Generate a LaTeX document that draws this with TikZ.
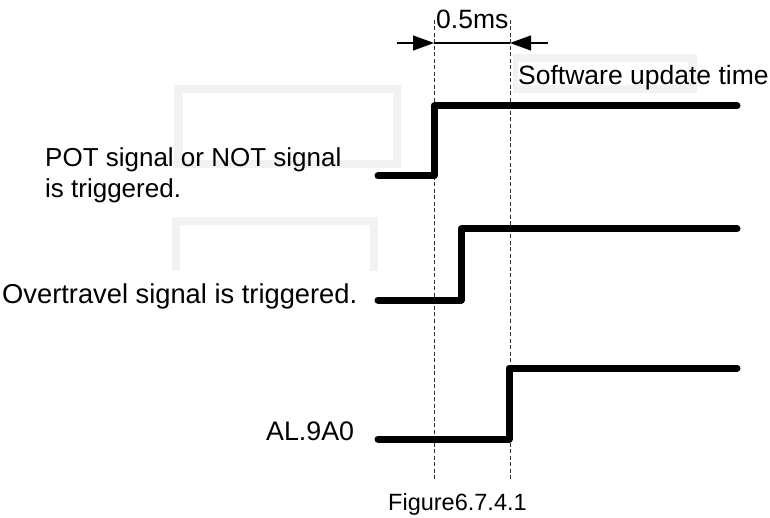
\documentclass[tikz,border=0pt]{standalone}
\usepackage{fontspec}
\setmainfont{Liberation Sans}
\usetikzlibrary{arrows.meta}
\definecolor{framegray}{RGB}{242,242,242}
\begin{document}
\begin{tikzpicture}[x=1pt,y=-1pt,
  signal/.style={line width=7pt,line cap=round,line join=round,black},
  guide/.style={line width=0.9pt,black!80,dash pattern=on 4pt off 2.5pt},
  dim/.style={line width=1.1pt,black},
  dimtip/.style={dim,-{Triangle[length=21pt,width=15pt]}},
  lbl/.style={inner sep=0pt,anchor=base west,font=\fontsize{26.5}{31}\selectfont},
  figcaption/.style={inner sep=0pt,anchor=base west,font=\fontsize{23.5}{28}\selectfont}]
\useasboundingbox (0,0) rectangle (770,518);
% faint gray frames
\fill[framegray] (174,85) rectangle (401,168);
\fill[white] (183,93) rectangle (393,160);
\fill[framegray] (172,217) rectangle (378,271);
\fill[white] (180,225) rectangle (370,272);
\fill[framegray] (513,54) rectangle (697,93);
\fill[white] (518,62) rectangle (688,85);
% guide coordinates
\coordinate (g1t) at (434,20);
\coordinate (g1b) at (434,480);
\coordinate (g2t) at (510,20);
\coordinate (g2b) at (510,480);
\draw[guide] (g1t) -- (g1b);
\draw[guide] (g2t) -- (g2b);
% dimension
\coordinate (d1) at (434,43);
\coordinate (d2) at (510,43);
\coordinate (al) at (397,43);
\coordinate (ar) at (548,43);
\draw[dim] (d1) -- (d2);
\draw[dimtip] (al) -- (d1);
\draw[dimtip] (ar) -- (d2);
\node[lbl] (tms) at (436,29) {0.5ms};
\node[lbl] (tsw) at (518,85) {Software update time};
% signals
\coordinate (s1a) at (378,176);
\coordinate (s1b) at (434,176);
\coordinate (s1c) at (434,106);
\coordinate (s1d) at (737,106);
\draw[signal] (s1a) -- (s1b) -- (s1c) -- (s1d);
\coordinate (s2a) at (378,300);
\coordinate (s2b) at (461,300);
\coordinate (s2c) at (461,229);
\coordinate (s2d) at (737,229);
\draw[signal] (s2a) -- (s2b) -- (s2c) -- (s2d);
\coordinate (s3a) at (378,439);
\coordinate (s3b) at (509,439);
\coordinate (s3c) at (509,368);
\coordinate (s3d) at (737,368);
\draw[signal] (s3a) -- (s3b) -- (s3c) -- (s3d);
% labels
\node[lbl,font=\fontsize{26}{31}\selectfont] (pot1) at (45,167) {POT signal or NOT signal};
\node[lbl,font=\fontsize{26}{31}\selectfont] (pot2) at (45,198) {is triggered.};
\node[lbl,font=\fontsize{27.3}{31}\selectfont] (ot) at (2,303) {Overtravel signal is triggered.};
\node[lbl,font=\fontsize{26.8}{31}\selectfont] (al9) at (266,440) {AL.9A0};
\node[figcaption] (fig) at (388,510) {Figure6.7.4.1};
\end{tikzpicture}
\end{document}
